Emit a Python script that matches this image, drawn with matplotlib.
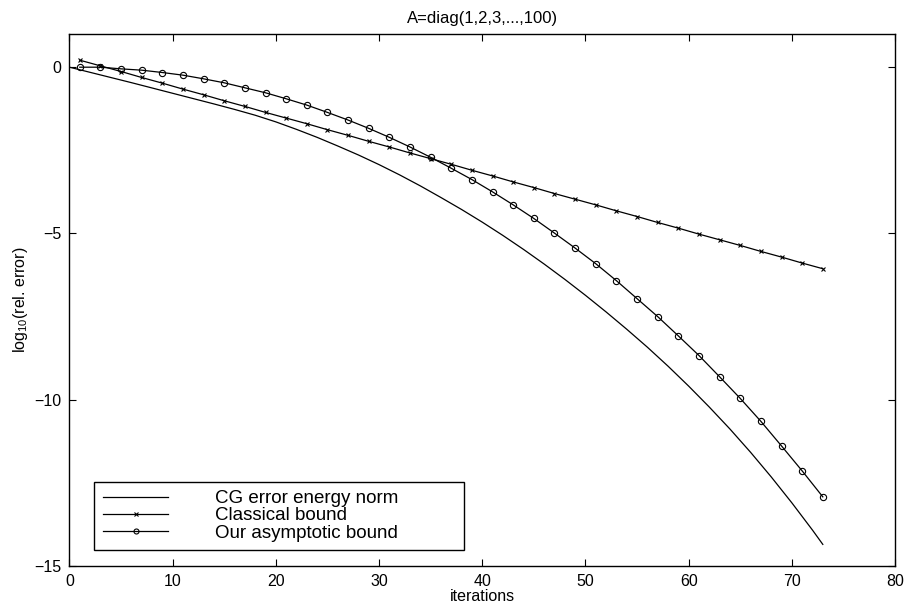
import matplotlib
matplotlib.use("Agg")
import matplotlib.pyplot as plt

plt.rcParams['font.family'] = ['Liberation Sans', 'DejaVu Sans']
plt.rcParams['mathtext.default'] = 'regular'

# CG error in energy norm (log10)
cg_iter = [0, 2, 4, 6, 8, 10, 12, 14, 16, 18, 20, 22, 24, 26, 28, 30, 32, 34, 36,
           38, 40, 42, 44, 46, 48, 50, 52, 54, 56, 58, 60, 62, 64, 66, 68, 70, 72, 73]
cg_err = [0.0, -0.155, -0.31, -0.465, -0.625, -0.785, -0.945, -1.105, -1.27, -1.445,
          -1.645, -1.87, -2.11, -2.37, -2.64, -2.93, -3.24, -3.57, -3.92, -4.28, -4.66,
          -5.06, -5.48, -5.92, -6.38, -6.86, -7.36, -7.88, -8.42, -8.99, -9.59, -10.22,
          -10.88, -11.58, -12.32, -13.10, -13.92, -14.35]

# bounds, plotted every second iteration
bound_iter = [1, 3, 5, 7, 9, 11, 13, 15, 17, 19, 21, 23, 25, 27, 29, 31, 33, 35, 37,
              39, 41, 43, 45, 47, 49, 51, 53, 55, 57, 59, 61, 63, 65, 67, 69, 71, 73]
classical = [0.21, 0.04, -0.13, -0.31, -0.48, -0.66, -0.83, -1.01, -1.18, -1.36, -1.53,
             -1.70, -1.88, -2.05, -2.23, -2.40, -2.58, -2.75, -2.92, -3.10, -3.27, -3.45,
             -3.62, -3.80, -3.97, -4.14, -4.32, -4.49, -4.67, -4.84, -5.02, -5.19, -5.36,
             -5.54, -5.71, -5.89, -6.06]
asymptotic = [0.0, 0.0, -0.05, -0.09, -0.16, -0.24, -0.35, -0.47, -0.62, -0.77, -0.95,
              -1.14, -1.36, -1.59, -1.84, -2.11, -2.40, -2.71, -3.04, -3.38, -3.75, -4.14,
              -4.55, -4.99, -5.44, -5.91, -6.42, -6.96, -7.50, -8.08, -8.67, -9.31, -9.96,
              -10.65, -11.39, -12.14, -12.92]

fig = plt.figure(figsize=(9.06, 6.06), dpi=100)
ax = fig.add_axes([0.0767, 0.066, 0.9112, 0.878])

ax.plot(cg_iter, cg_err, color='k', lw=0.9, label='CG error energy norm')
ax.plot(bound_iter, classical, color='k', lw=0.9, marker='x', ms=3, mew=0.8,
        label='Classical bound')
ax.plot(bound_iter, asymptotic, color='k', lw=0.9, marker='o', ms=4.5, mew=0.8,
        mfc='none', label='Our asymptotic bound')

ax.set_xlim(0, 80)
ax.set_ylim(-15, 1)
ax.set_xticks(range(0, 81, 10))
ax.set_yticks([-15, -10, -5, 0])
ax.tick_params(direction='in', top=True, right=True, length=5, width=0.8,
               labelsize=11.5, pad=6)
for s in ax.spines.values():
    s.set_linewidth(1.0)

ax.set_title('A=diag(1,2,3,...,100)', fontsize=12, pad=8)
ax.set_xlabel('iterations', fontsize=11.5, labelpad=0)
ax.set_ylabel('log$_{10}$(rel. error)', fontsize=11.5, labelpad=3)

leg = ax.legend(loc='lower left', bbox_to_anchor=(0.030, 0.030, 0.448, 0.13),
                mode='expand', borderaxespad=0, fontsize=13.5, fancybox=False,
                framealpha=1, edgecolor='k', handlelength=3.5, handletextpad=2.5,
                labelspacing=0.0, borderpad=0.45, markerscale=0.8)
leg.get_frame().set_linewidth(1.0)

fig.savefig('out.png', dpi=100)
